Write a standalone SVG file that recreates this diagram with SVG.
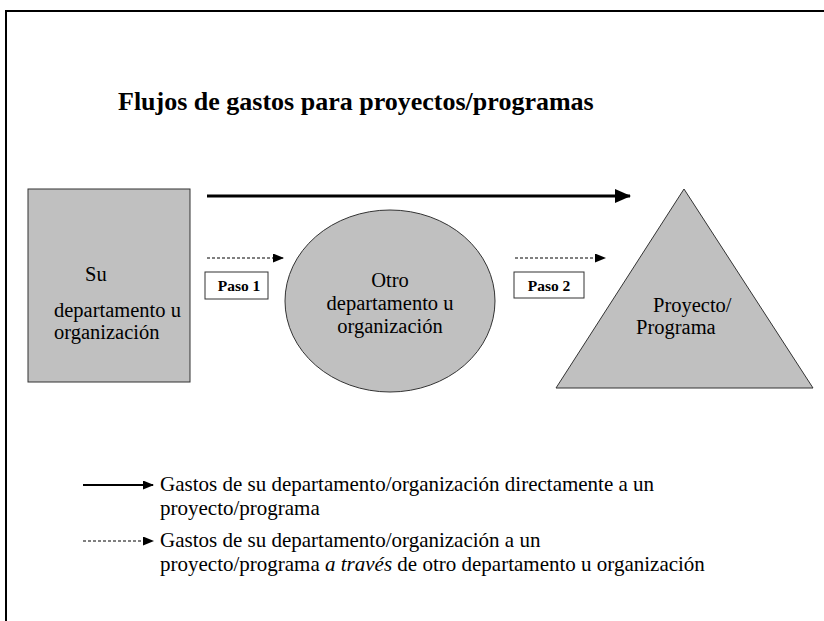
<svg xmlns="http://www.w3.org/2000/svg" width="824" height="621" viewBox="0 0 824 621">
<style>
  text { font-family: "Liberation Serif", "Times New Roman", serif; fill: #000; }
  .node { font-size: 20.5px; }
  .leg { font-size: 21px; }
  .paso { font-size: 15.5px; font-weight: bold; }
  .shape { fill: #c0c0c0; stroke: #333; stroke-width: 1; }
</style>
<defs>
  <marker id="ahBig" markerWidth="16" markerHeight="14" refX="15" refY="7" orient="auto" markerUnits="userSpaceOnUse">
    <path d="M0,0 L16,7 L0,14 Z" fill="#000"/>
  </marker>
  <marker id="ahSmall" markerWidth="11" markerHeight="9" refX="10" refY="4.5" orient="auto" markerUnits="userSpaceOnUse">
    <path d="M0,0 L11,4.5 L0,9 Z" fill="#000"/>
  </marker>
</defs>
<rect width="824" height="621" fill="#fff"/>
<g id="frame" stroke="#000" stroke-width="2" fill="none">
  <line x1="5" y1="11" x2="824" y2="11"/>
  <line x1="6" y1="11" x2="6" y2="621"/>
</g>
<text id="title" x="118" y="110" font-size="26" font-weight="bold">Flujos de gastos para proyectos/programas</text>
<g id="node-su">
  <rect class="shape" x="28" y="189" width="162" height="193"/>
  <text class="node" x="85" y="281">Su</text>
  <text class="node" x="54" y="317">departamento u</text>
  <text class="node" x="54" y="339">organización</text>
</g>
<g id="node-otro">
  <ellipse class="shape" cx="390" cy="301" rx="105" ry="91"/>
  <text class="node" x="390" y="287" text-anchor="middle">Otro</text>
  <text class="node" x="390" y="310" text-anchor="middle">departamento u</text>
  <text class="node" x="390" y="333" text-anchor="middle">organización</text>
</g>
<g id="node-proyecto">
  <polygon class="shape" points="684,189 813,388 556,388"/>
  <text class="node" x="653" y="312">Proyecto/</text>
  <text class="node" x="636" y="334">Programa</text>
</g>
<g id="connectors">
  <line x1="207" y1="196" x2="630" y2="196" stroke="#000" stroke-width="3" marker-end="url(#ahBig)"/>
  <line x1="207" y1="258" x2="283" y2="258" stroke="#000" stroke-width="1" stroke-dasharray="3,2" marker-end="url(#ahSmall)"/>
  <line x1="515" y1="258" x2="605" y2="258" stroke="#000" stroke-width="1" stroke-dasharray="3,2" marker-end="url(#ahSmall)"/>
</g>
<g id="paso1">
  <rect x="205" y="272" width="63" height="27" fill="#fff" stroke="#333" stroke-width="1"/>
  <text class="paso" x="239" y="291" text-anchor="middle">Paso 1</text>
</g>
<g id="paso2">
  <rect x="514" y="272" width="70" height="26" fill="#fff" stroke="#333" stroke-width="1"/>
  <text class="paso" x="549" y="291" text-anchor="middle">Paso 2</text>
</g>
<g id="legend">
  <line x1="83" y1="485" x2="153" y2="485" stroke="#000" stroke-width="2" marker-end="url(#ahSmall)"/>
  <text class="leg" x="160" y="491">Gastos de su departamento/organización directamente a un</text>
  <text class="leg" x="160" y="515">proyecto/programa</text>
  <line x1="83" y1="541" x2="153" y2="541" stroke="#000" stroke-width="1" stroke-dasharray="3,2" marker-end="url(#ahSmall)"/>
  <text class="leg" x="160" y="547">Gastos de su departamento/organización a un</text>
  <text class="leg" x="160" y="571">proyecto/programa <tspan font-style="italic">a través</tspan> de otro departamento u organización</text>
</g>
</svg>
